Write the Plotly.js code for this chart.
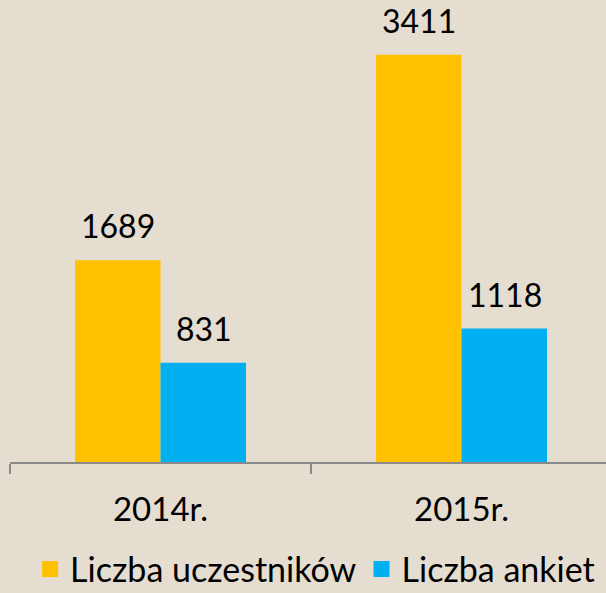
<!DOCTYPE html>
<html>
<head>
<meta charset="utf-8">
<script src="https://cdn.plot.ly/plotly-3.0.1.min.js"></script>
<style>html,body{margin:0;padding:0;background:#e4ddd0;}</style>
</head>
<body>
<div id="chart" style="width:606px;height:593px;"></div>
<script>
var categories = ["2014r.", "2015r."];
var seriesNames = ["Liczba uczestników", "Liczba ankiet"];
var uczestnicy = [1689, 3411];
var ankiety = [831, 1118];
var colors = ["#ffc000", "#00b0f0"];

var FONT = "Lato, 'Noto Sans', sans-serif";
var seriesValues = [uczestnicy, ankiety];
var shifts = [-43, 43];

var traces = [];
seriesValues.forEach(function (vals, s) {
  traces.push({
    type: "bar", x: categories, y: vals, name: seriesNames[s],
    marker: {color: colors[s]}, showlegend: false, hoverinfo: "x+y"
  });
});
seriesValues.forEach(function (vals, s) {
  traces.push({
    type: "scatter", mode: "markers", x: [null], y: [null], name: seriesNames[s],
    marker: {color: colors[s], symbol: "square", size: 16}, showlegend: true
  });
});

var annotations = [];
seriesValues.forEach(function (vals, s) {
  vals.forEach(function (v, i) {
    annotations.push({
      x: categories[i], y: v, xref: "x", yref: "y", text: String(v),
      showarrow: false, xanchor: "center", yanchor: "bottom",
      xshift: shifts[s], yshift: 13,
      font: {family: FONT, size: 32, color: "#000"}
    });
  });
});

var layout = {
  width: 606, height: 593,
  margin: {l: 10, r: 0, t: 0, b: 131, pad: 0},
  paper_bgcolor: "#e4ddd0", plot_bgcolor: "rgba(0,0,0,0)",
  barmode: "group", bargap: 0.432, bargroupgap: 0,
  font: {family: FONT, size: 32, color: "#000"},
  xaxis: {
    type: "category", range: [-0.5, 1.48], fixedrange: true,
    showline: true, linecolor: "#8a8a8a", linewidth: 1.5,
    ticks: "outside", tickson: "boundaries", ticklen: 10, tickcolor: "#8a8a8a", tickwidth: 1.5,
    showgrid: false, zeroline: false,
    tickfont: {family: FONT, size: 33, color: "#000"}, ticklabelstandoff: 18
  },
  yaxis: {range: [0, 3870], visible: false, showgrid: false, zeroline: false, fixedrange: true},
  showlegend: true,
  legend: {
    orientation: "h", xref: "container", yref: "container",
    x: 0.52, xanchor: "center", y: 0.04, yanchor: "middle",
    font: {family: FONT, size: 34, color: "#000"},
    bgcolor: "rgba(0,0,0,0)", itemclick: false, itemdoubleclick: false
  },
  annotations: annotations
};

Plotly.newPlot("chart", traces, layout, {displayModeBar: false, staticPlot: true});
</script>
</body>
</html>
